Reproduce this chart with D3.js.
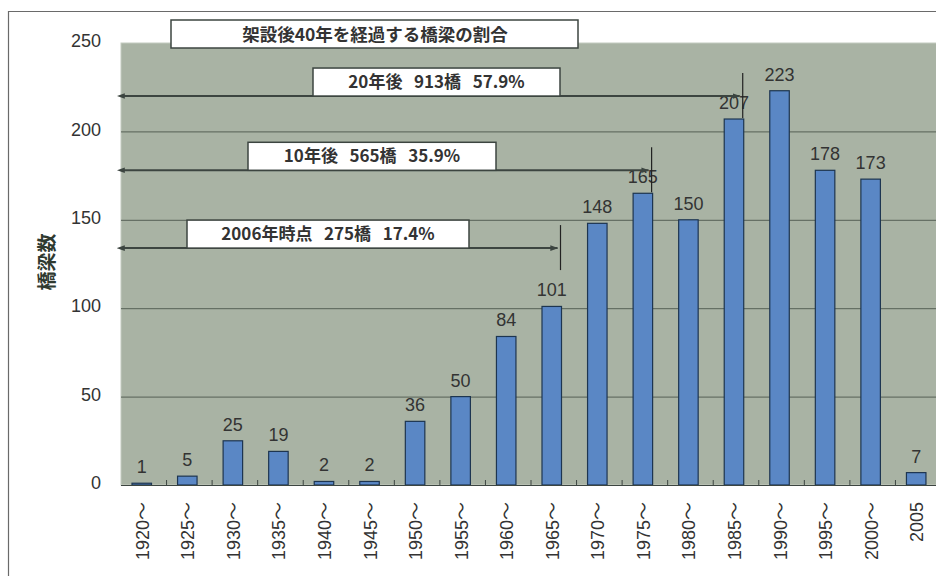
<!DOCTYPE html>
<html>
<head>
<meta charset="utf-8">
<script src="https://cdn.jsdelivr.net/npm/d3@7"></script>
<style>
  html, body { margin: 0; padding: 0; background: #fff; }
  svg { display: block; font-family: "Liberation Sans", Arial, "Noto Sans CJK JP", sans-serif; }
</style>
</head>
<body>
<svg id="chart" width="936" height="576"></svg>
<script>
// Bridges by construction period
const categories = ["1920～","1925～","1930～","1935～","1940～","1945～","1950～","1955～","1960～",
                    "1965～","1970～","1975～","1980～","1985～","1990～","1995～","2000～","2005"];
const bridgeCounts = [1, 5, 25, 19, 2, 2, 36, 50, 84, 101, 148, 165, 150, 207, 223, 178, 173, 7];
const yTicks = [0, 50, 100, 150, 200, 250];

const chartTitle = "架設後40年を経過する橋梁の割合";
const yAxisTitle = "橋梁数";

// Ranges of bridges reaching 40 years: label and the last period included
const spanLabels = ["20年後   913橋   57.9%", "10年後   565橋   35.9%", "2006年時点   275橋   17.4%"];
const spanEnds = ["1985～", "1975～", "1965～"];
const spanLevels = [220, 178, 134];

const svg = d3.select("#chart");
const plot = { left: 121, right: 941, top: 43, bottom: 485 };

const x = d3.scaleBand().domain(categories).range([plot.left, plot.right]).padding(0);
const y = d3.scaleLinear().domain([0, 250]).range([plot.bottom, plot.top]);
const barOffset = 11, barWidth = 19.5;

// Outer frame
svg.append("path")
  .attr("d", "M 8.5 580 L 8.5 11.5 L 940 11.5")
  .attr("fill", "none").attr("stroke", "#6a6a6a").attr("stroke-width", 1.2);

// Plot area
svg.append("rect")
  .attr("x", plot.left).attr("y", plot.top)
  .attr("width", plot.right - plot.left).attr("height", plot.bottom - plot.top)
  .attr("fill", "#a9b3a4").attr("stroke", "#c4cbc0").attr("stroke-width", 1);

// Horizontal gridlines
svg.append("g").selectAll("line")
  .data(yTicks.filter(d => d > 0 && d < 250))
  .join("line")
  .attr("x1", plot.left).attr("x2", plot.right)
  .attr("y1", d => y(d) + 0.5).attr("y2", d => y(d) + 0.5)
  .attr("stroke", "#566055").attr("stroke-width", 1);

// Y axis labels
const yAxis = d3.axisLeft(y).tickValues(yTicks).tickSize(0).tickPadding(20);
const gy = svg.append("g").attr("transform", `translate(${plot.left},0)`).call(yAxis);
gy.select(".domain").remove();
gy.selectAll("text").attr("font-size", 18).attr("fill", "#333").attr("dy", "0.2em");

// Y axis title
svg.append("text")
  .attr("transform", "translate(54,262) rotate(-90)")
  .attr("text-anchor", "middle")
  .attr("font-size", 19).attr("font-weight", "bold").attr("fill", "#2f3a30")
  .attr("font-family", "'Noto Sans CJK JP', sans-serif")
  .text(yAxisTitle);

// Bars
svg.append("g").selectAll("rect")
  .data(categories.map((c, i) => ({ c, v: bridgeCounts[i] })))
  .join("rect")
  .attr("x", d => x(d.c) + barOffset)
  .attr("y", d => y(d.v))
  .attr("width", barWidth)
  .attr("height", d => y(0) - y(d.v))
  .attr("fill", "#5a87c5").attr("stroke", "#1d3550").attr("stroke-width", 1.2);

// Value labels
svg.append("g").selectAll("text")
  .data(categories.map((c, i) => ({ c, v: bridgeCounts[i] })))
  .join("text")
  .attr("x", d => x(d.c) + barOffset + barWidth / 2)
  .attr("y", d => y(d.v) - 10)
  .attr("text-anchor", "middle")
  .attr("font-size", 18).attr("fill", "#333")
  .text(d => d.v);

// X axis baseline and small ticks
svg.append("line")
  .attr("x1", plot.left).attr("x2", plot.right)
  .attr("y1", plot.bottom + 0.5).attr("y2", plot.bottom + 0.5)
  .attr("stroke", "#3c4540").attr("stroke-width", 1.2);
svg.append("g").selectAll("line")
  .data(categories.slice(1))
  .join("line")
  .attr("x1", d => x(d)).attr("x2", d => x(d))
  .attr("y1", plot.bottom - 5).attr("y2", plot.bottom)
  .attr("stroke", "#3c4540").attr("stroke-width", 1);

// X tick labels, rotated
svg.append("g").selectAll("text")
  .data(categories)
  .join("text")
  .attr("transform", d => `translate(${x(d) + barOffset + barWidth / 2 + 7},502) rotate(-90)`)
  .attr("text-anchor", "end")
  .attr("font-size", 18).attr("fill", "#333")
  .text(d => d);

// Span arrows with labels
const defs = svg.append("defs");
["start", "end"].forEach(k => {
  defs.append("marker")
    .attr("id", "arrow-" + k)
    .attr("viewBox", "0 0 10 10").attr("refX", k === "end" ? 9 : 1).attr("refY", 5)
    .attr("markerWidth", 8).attr("markerHeight", 8).attr("markerUnits", "userSpaceOnUse")
    .attr("orient", "auto-start-reverse")
    .append("path").attr("d", "M0,1.5 L10,5 L0,8.5 Z").attr("fill", "#3c4540");
});

const boxes = [
  { x0: 313, x1: 560 },
  { x0: 248, x1: 496 },
  { x0: 187, x1: 469 }
];

spanLabels.forEach((label, i) => {
  const endX = x(spanEnds[i]) + barOffset + barWidth - 1;
  const yy = y(spanLevels[i]);
  svg.append("line")
    .attr("x1", plot.left + 3).attr("x2", endX - 3)
    .attr("y1", yy).attr("y2", yy)
    .attr("stroke", "#3c4540").attr("stroke-width", 2)
    .attr("marker-start", "url(#arrow-start)")
    .attr("marker-end", "url(#arrow-end)");
  svg.append("line")
    .attr("x1", endX).attr("x2", endX)
    .attr("y1", yy - 23).attr("y2", yy + 22)
    .attr("stroke", "#222").attr("stroke-width", 1.2);
  const b = boxes[i];
  svg.append("rect")
    .attr("x", b.x0).attr("y", yy - 28)
    .attr("width", b.x1 - b.x0).attr("height", 28)
    .attr("fill", "#fff").attr("stroke", "#3c4540").attr("stroke-width", 1.5);
  svg.append("text")
    .attr("x", (b.x0 + b.x1) / 2).attr("y", yy - 8)
    .attr("text-anchor", "middle")
    .attr("font-size", 17).attr("font-weight", "bold").attr("fill", "#333")
    .attr("font-family", "'Noto Sans CJK JP', sans-serif")
    .style("white-space", "pre")
    .text(label);
});

// Title box
svg.append("rect")
  .attr("x", 171).attr("y", 20).attr("width", 407).attr("height", 28)
  .attr("fill", "#fff").attr("stroke", "#3c4540").attr("stroke-width", 1.5);
svg.append("text")
  .attr("x", 375).attr("y", 40.5)
  .attr("text-anchor", "middle")
  .attr("font-size", 17.5).attr("font-weight", "bold").attr("fill", "#333")
  .attr("font-family", "'Noto Sans CJK JP', sans-serif")
  .text(chartTitle);
</script>
</body>
</html>
